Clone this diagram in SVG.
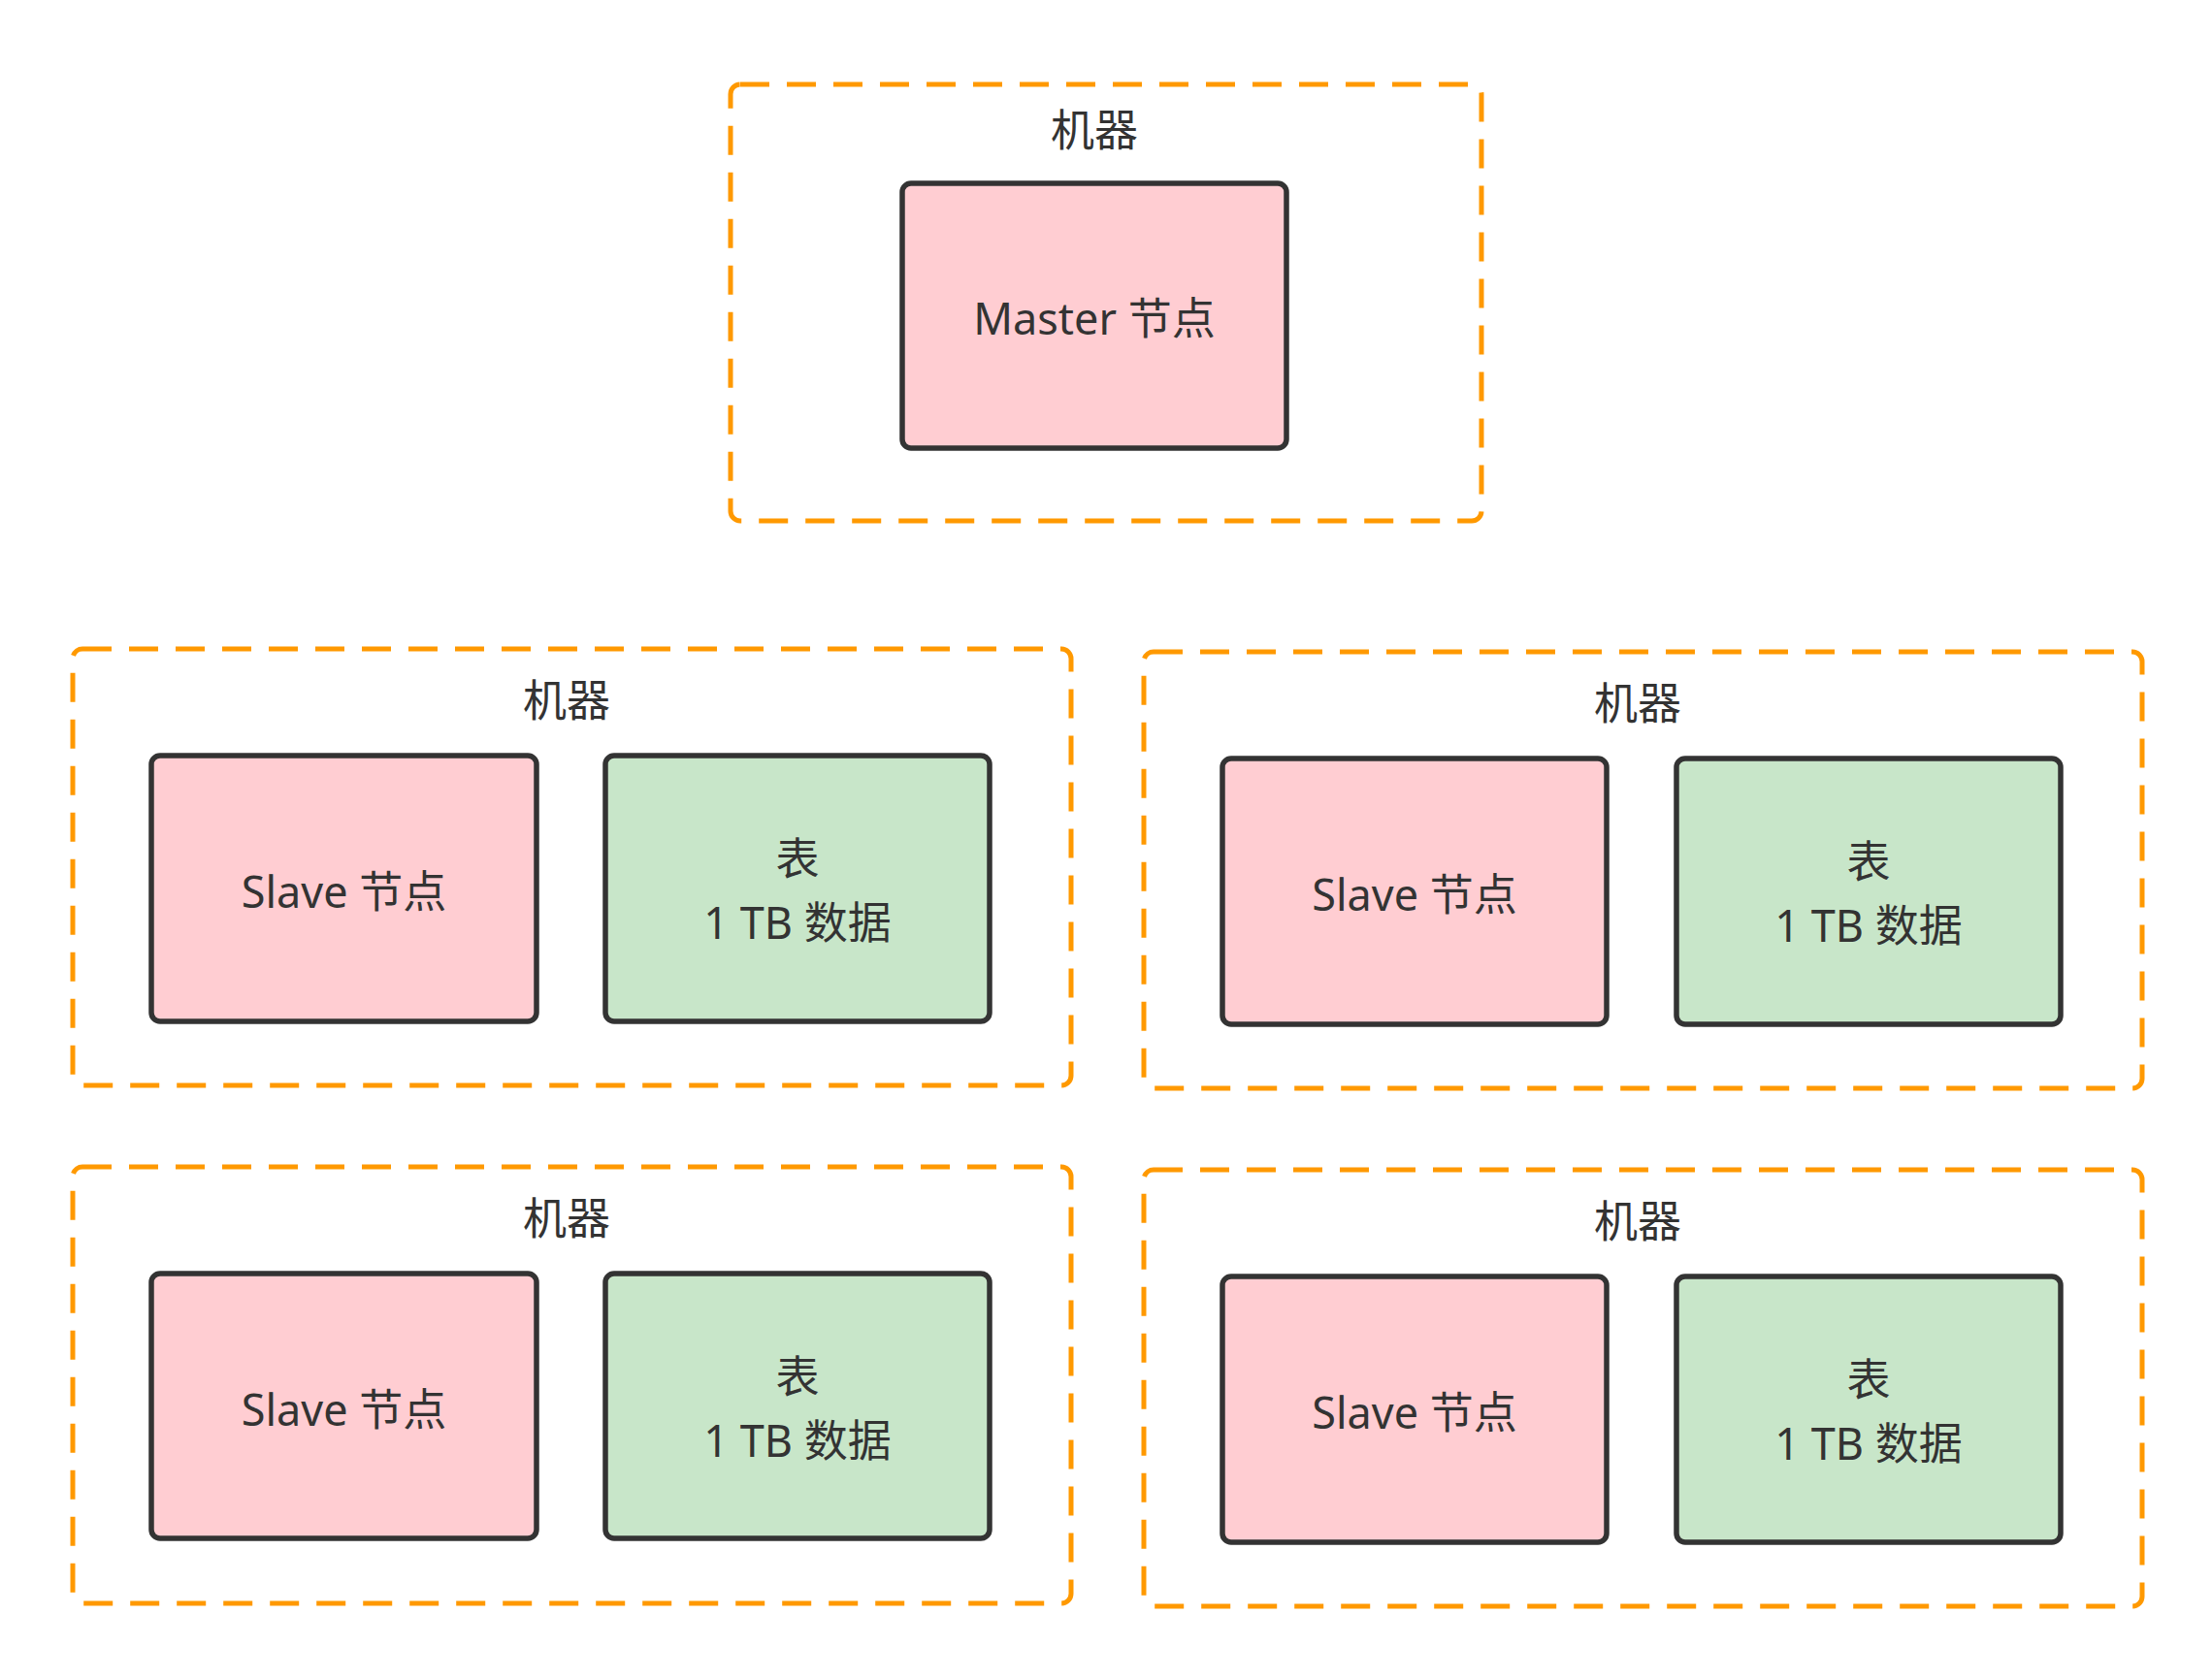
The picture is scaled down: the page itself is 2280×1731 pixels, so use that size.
<svg xmlns="http://www.w3.org/2000/svg" width="2280" height="1731" viewBox="0 0 2280 1731">
<style>
.machine{fill:none;stroke:#FF9900;stroke-width:5;stroke-dasharray:30 18}
.slave{fill:#FFCDD2;stroke:#333333;stroke-width:5.5}
.table{fill:#C8E6C9;stroke:#333333;stroke-width:5.5}
text{font-family:"Noto Sans","Noto Sans CJK SC",sans-serif;font-size:45px;fill:#333333;text-anchor:middle}
</style>
<rect width="2280" height="1731" fill="#ffffff"/>
<g id="machine-master">
<rect class="machine" x="753" y="87" width="774" height="450" rx="10"/>
<text x="1128" y="151">机器</text>
</g>
<g id="master-node">
<rect class="slave" x="930" y="189" width="396" height="273" rx="9"/>
<text x="1128" y="345">Master 节点</text>
</g>
<g id="machine-1">
<rect class="machine" x="75" y="669" width="1029" height="450" rx="10"/>
<text x="584" y="739">机器</text>
</g>
<g id="slave-1">
<rect class="slave" x="156" y="779" width="397" height="274" rx="9"/>
<text x="354.5" y="936">Slave 节点</text>
</g>
<g id="table-1">
<rect class="table" x="624" y="779" width="396" height="274" rx="9"/>
<text x="822" y="902">表</text>
<text x="822" y="968">1 TB 数据</text>
</g>
<g id="machine-2">
<rect class="machine" x="1179" y="672" width="1029" height="450" rx="10"/>
<text x="1688" y="742">机器</text>
</g>
<g id="slave-2">
<rect class="slave" x="1260" y="782" width="396" height="274" rx="9"/>
<text x="1458" y="939">Slave 节点</text>
</g>
<g id="table-2">
<rect class="table" x="1728" y="782" width="396" height="274" rx="9"/>
<text x="1926" y="905">表</text>
<text x="1926" y="971">1 TB 数据</text>
</g>
<g id="machine-3">
<rect class="machine" x="75" y="1203" width="1029" height="450" rx="10"/>
<text x="584" y="1273">机器</text>
</g>
<g id="slave-3">
<rect class="slave" x="156" y="1313" width="397" height="273" rx="9"/>
<text x="354.5" y="1470">Slave 节点</text>
</g>
<g id="table-3">
<rect class="table" x="624" y="1313" width="396" height="273" rx="9"/>
<text x="822" y="1436">表</text>
<text x="822" y="1502">1 TB 数据</text>
</g>
<g id="machine-4">
<rect class="machine" x="1179" y="1206" width="1029" height="450" rx="10"/>
<text x="1688" y="1276">机器</text>
</g>
<g id="slave-4">
<rect class="slave" x="1260" y="1316" width="396" height="274" rx="9"/>
<text x="1458" y="1473">Slave 节点</text>
</g>
<g id="table-4">
<rect class="table" x="1728" y="1316" width="396" height="274" rx="9"/>
<text x="1926" y="1439">表</text>
<text x="1926" y="1505">1 TB 数据</text>
</g>
<g id="connectors"></g>
</svg>
